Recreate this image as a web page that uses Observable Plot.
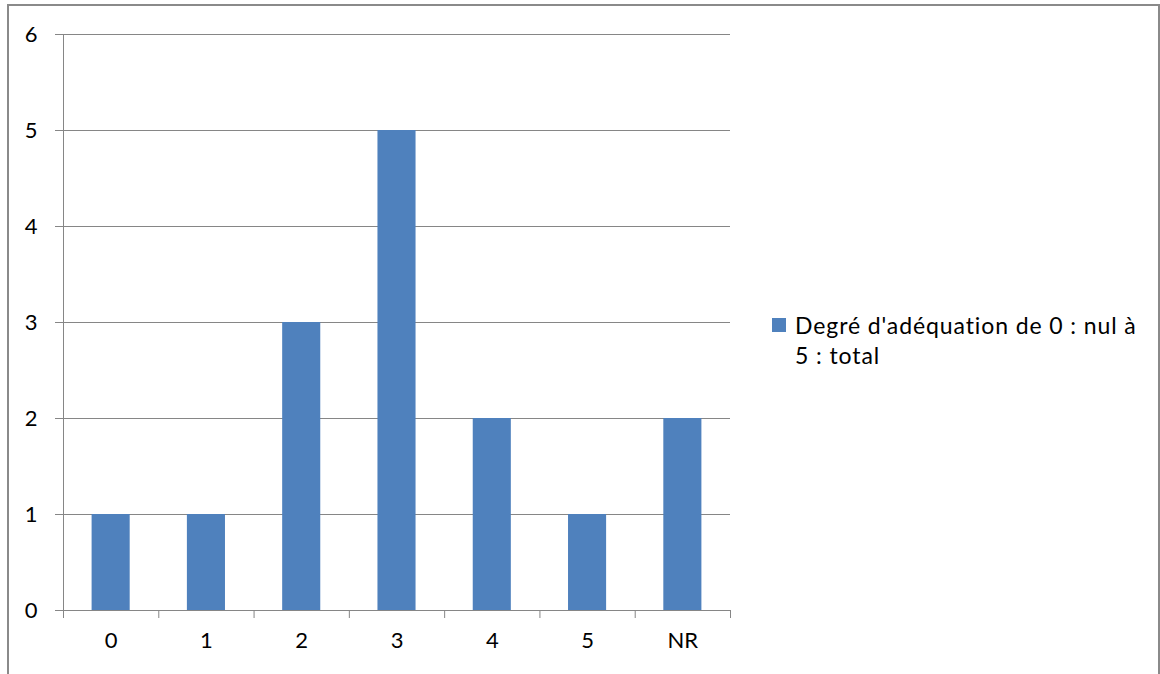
<!DOCTYPE html>
<html>
<head>
<meta charset="utf-8">
<script src="https://cdn.jsdelivr.net/npm/d3@7"></script>
<script src="https://cdn.jsdelivr.net/npm/@observablehq/plot@0.6"></script>
<style>
  html, body { margin: 0; padding: 0; background: #fff; }
  #wrap { position: relative; width: 1160px; height: 674px; overflow: hidden; font-family: Lato, "Open Sans", sans-serif; }
  #border { position: absolute; left: 7px; top: 4px; width: 1153px; height: 720px; box-sizing: border-box;
            border: 2px solid #8a8a8a; border-bottom: none; }
  #chart { position: absolute; left: 0; top: 0; }
  #legend { position: absolute; left: 772px; top: 310px; width: 380px; font-size: 23px; line-height: 30px; color: #000; letter-spacing: 0.9px; }
  #legend .sw { position: absolute; left: 0; top: 8px; width: 14px; height: 14px; background: #4F81BD; }
  #legend .lb { margin-left: 23px; width: 350px; }
  svg [aria-label="y-axis tick"] path, svg [aria-label="x-axis tick"] path { stroke: #868686; }
</style>
</head>
<body>
<div id="wrap">
  <div id="border"></div>
  <div id="chart"></div>
  <div id="legend"><div class="sw"></div><div class="lb" id="lb"></div></div>
</div>
<script>
const categories = ["0", "1", "2", "3", "4", "5", "NR"];
const values = [1, 1, 3, 5, 2, 1, 2];
const yTicks = [0, 1, 2, 3, 4, 5, 6];
const seriesName = "Degré d'adéquation de 0 : nul à 5 : total";
const barColor = "#4F81BD";

const data = categories.map((c, i) => ({cat: c, idx: i, value: values[i]}));
const boundaries = d3.range(categories.length + 1);

const chart = Plot.plot({
  width: 1160,
  height: 674,
  marginLeft: 63,
  marginRight: 430,
  marginTop: 34,
  marginBottom: 64,
  style: {fontFamily: "Lato, 'Open Sans', sans-serif", fontSize: "22px", color: "#000", background: "transparent"},
  x: {type: "linear", domain: [0, categories.length], axis: null},
  y: {domain: [0, 6], axis: null},
  marks: [
    Plot.ruleY(yTicks, {stroke: "#868686", strokeWidth: 1, strokeOpacity: 1}),
    Plot.rectY(data, {x1: d => d.idx, x2: d => d.idx + 1, y: "value", fill: barColor, insetLeft: 28.6, insetRight: 28.6}),
    Plot.ruleX([0], {stroke: "#868686", strokeWidth: 1}),
    Plot.ruleY([0], {stroke: "#868686", strokeWidth: 1}),
    Plot.axisY({ticks: yTicks, tickSize: 8, tickPadding: 18, tickFormat: d3.format("d"), fontSize: 22, label: null}),
    Plot.axisX({ticks: boundaries, tickSize: 8, tickFormat: () => "", label: null}),
    Plot.text(data, {x: d => d.idx + 0.5, text: "cat", frameAnchor: "bottom", dy: 37, fontSize: 22, fill: "#000"})
  ]
});
document.getElementById("chart").appendChild(chart);
document.getElementById("lb").textContent = seriesName;
</script>
</body>
</html>
